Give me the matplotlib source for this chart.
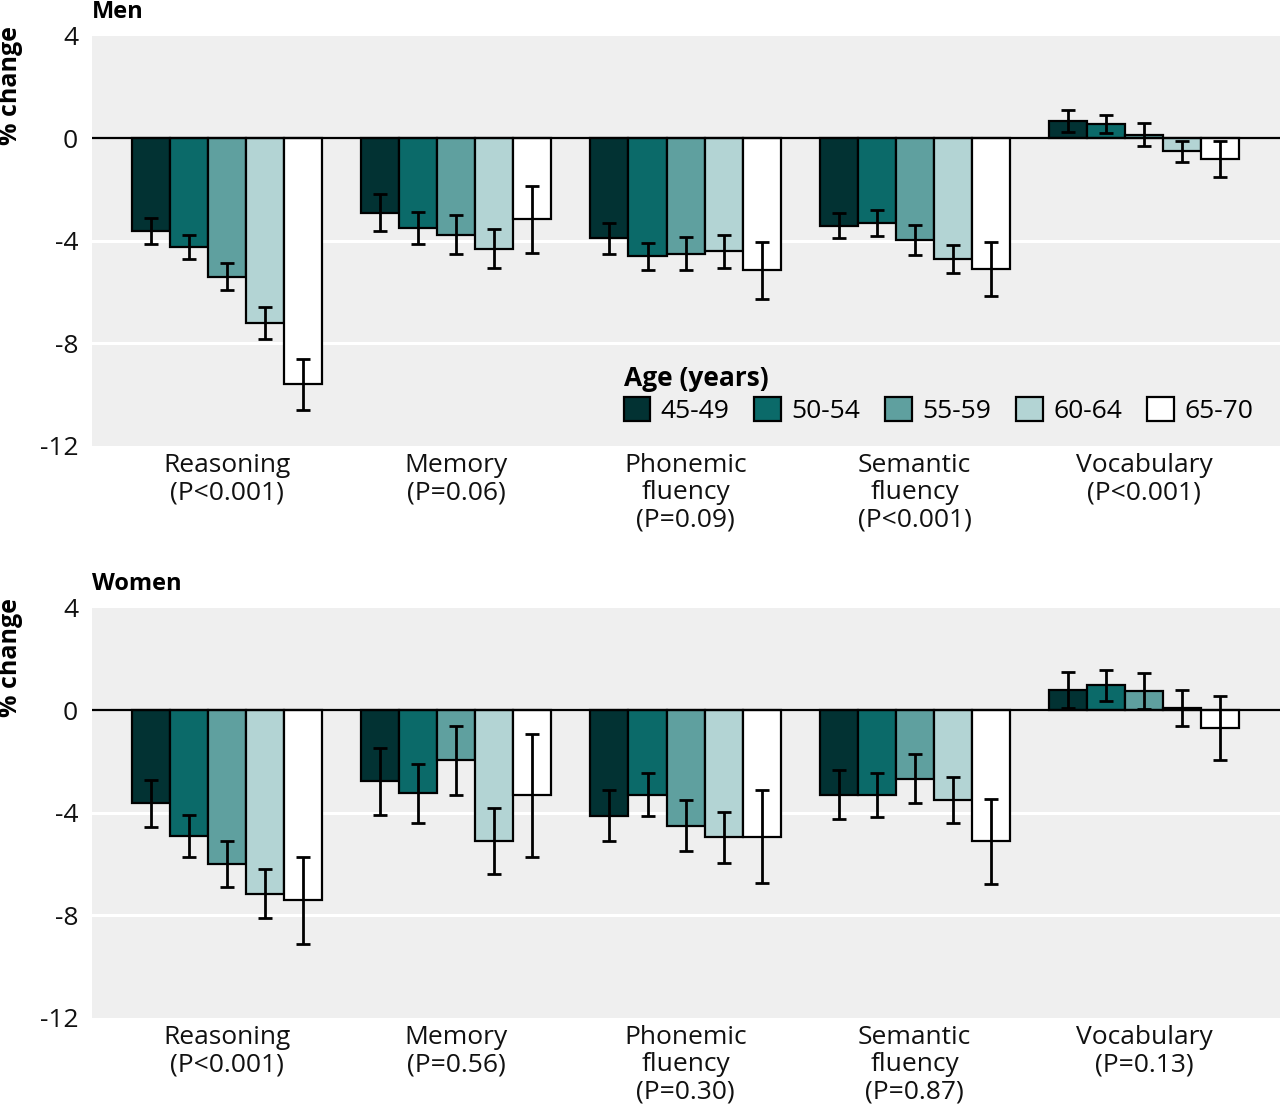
import matplotlib
matplotlib.use("Agg")
import matplotlib.pyplot as plt
import numpy as np
from matplotlib.patches import Patch

plt.rcParams['font.family'] = ['Open Sans', 'DejaVu Sans']

ages = ["45-49", "50-54", "55-59", "60-64", "65-70"]
colors = ["#023233", "#0b6a69", "#5fa09f", "#b3d4d4", "#ffffff"]

men_labels = ["Reasoning\n(P<0.001)", "Memory\n(P=0.06)", "Phonemic\nfluency\n(P=0.09)",
              "Semantic\nfluency\n(P<0.001)", "Vocabulary\n(P<0.001)"]
women_labels = ["Reasoning\n(P<0.001)", "Memory\n(P=0.56)", "Phonemic\nfluency\n(P=0.30)",
                "Semantic\nfluency\n(P=0.87)", "Vocabulary\n(P=0.13)"]

# rows: tests; columns: age groups
men_vals = [
    [-3.6, -4.25, -5.4, -7.2, -9.6],
    [-2.9, -3.5, -3.75, -4.3, -3.15],
    [-3.9, -4.6, -4.5, -4.4, -5.15],
    [-3.4, -3.3, -3.95, -4.7, -5.1],
    [0.7, 0.55, 0.15, -0.5, -0.8],
]
men_err = [
    [0.5, 0.47, 0.53, 0.62, 1.0],
    [0.72, 0.62, 0.77, 0.77, 1.3],
    [0.6, 0.53, 0.64, 0.65, 1.1],
    [0.5, 0.5, 0.58, 0.56, 1.05],
    [0.43, 0.35, 0.45, 0.4, 0.7],
]
women_vals = [
    [-3.63, -4.9, -5.98, -7.15, -7.4],
    [-2.77, -3.24, -1.95, -5.1, -3.3],
    [-4.1, -3.28, -4.5, -4.95, -4.92],
    [-3.28, -3.3, -2.66, -3.48, -5.1],
    [0.8, 0.98, 0.76, 0.1, -0.68],
]
women_err = [
    [0.9, 0.82, 0.9, 0.95, 1.7],
    [1.3, 1.15, 1.35, 1.3, 2.4],
    [1.0, 0.85, 1.0, 1.0, 1.8],
    [0.94, 0.85, 0.95, 0.9, 1.66],
    [0.7, 0.6, 0.7, 0.7, 1.26],
]

fig = plt.figure(figsize=(12.8, 11.1), dpi=100)
ax1 = fig.add_axes([0.0719, 0.5982, 0.9281, 0.3694])
ax2 = fig.add_axes([0.0719, 0.0829, 0.9281, 0.3694])

bw = 0.166
x = np.arange(5)

def draw(ax, vals, errs, labels, title):
    ax.set_facecolor("#efefef")
    vals = np.array(vals)
    errs = np.array(errs)
    for yy in [-4, -8]:
        ax.axhline(yy, color="white", lw=2.2, zorder=1)
    for j in range(5):
        pos = x + (j - 2) * bw
        ax.bar(pos, vals[:, j], width=bw, color=colors[j], edgecolor="black",
               linewidth=1.6, zorder=3, label=ages[j])
        ax.errorbar(pos, vals[:, j], yerr=errs[:, j], fmt="none", ecolor="black",
                    elinewidth=2.0, capsize=5, capthick=2.0, zorder=4)
    ax.axhline(0, color="black", lw=1.6, zorder=5)
    ax.set_xlim(-0.59, 4.594)
    ax.set_ylim(-12, 4)
    ax.set_yticks([4, 0, -4, -8, -12])
    ax.set_yticklabels(["4", "0", "-4", "-8", "-12"])
    ax.set_xticks(x)
    ax.set_xticklabels(labels, linespacing=1.12)
    ax.tick_params(axis="both", length=0, labelsize=19, colors="#111111")
    ax.tick_params(axis="x", pad=5)
    ax.tick_params(axis="y", pad=10)
    for s in ax.spines.values():
        s.set_visible(False)
    ax.text(0.0, 1.03, title, transform=ax.transAxes, fontsize=17,
            fontweight="bold", ha="left", va="bottom")
    ax.set_ylabel("% change", fontsize=18, fontweight="bold", labelpad=8)
    ax.yaxis.set_label_coords(-0.058, 0.88)

draw(ax1, men_vals, men_err, men_labels, "Men")
draw(ax2, women_vals, women_err, women_labels, "Women")

handles = [Patch(facecolor=c, edgecolor="black", linewidth=1.6) for c in colors]
leg = ax1.legend(handles, ages, ncol=5, loc="upper left",
                 bbox_to_anchor=(0.443, 0.21), frameon=False, fontsize=19,
                 title="Age (years)", title_fontproperties={"weight": "bold", "size": 19},
                 handlelength=1.0, handleheight=1.0, handletextpad=0.4,
                 columnspacing=0.95, borderaxespad=0, borderpad=0.2, labelspacing=0.2)
leg._legend_box.align = "left"

fig.savefig("out.png", dpi=100)
